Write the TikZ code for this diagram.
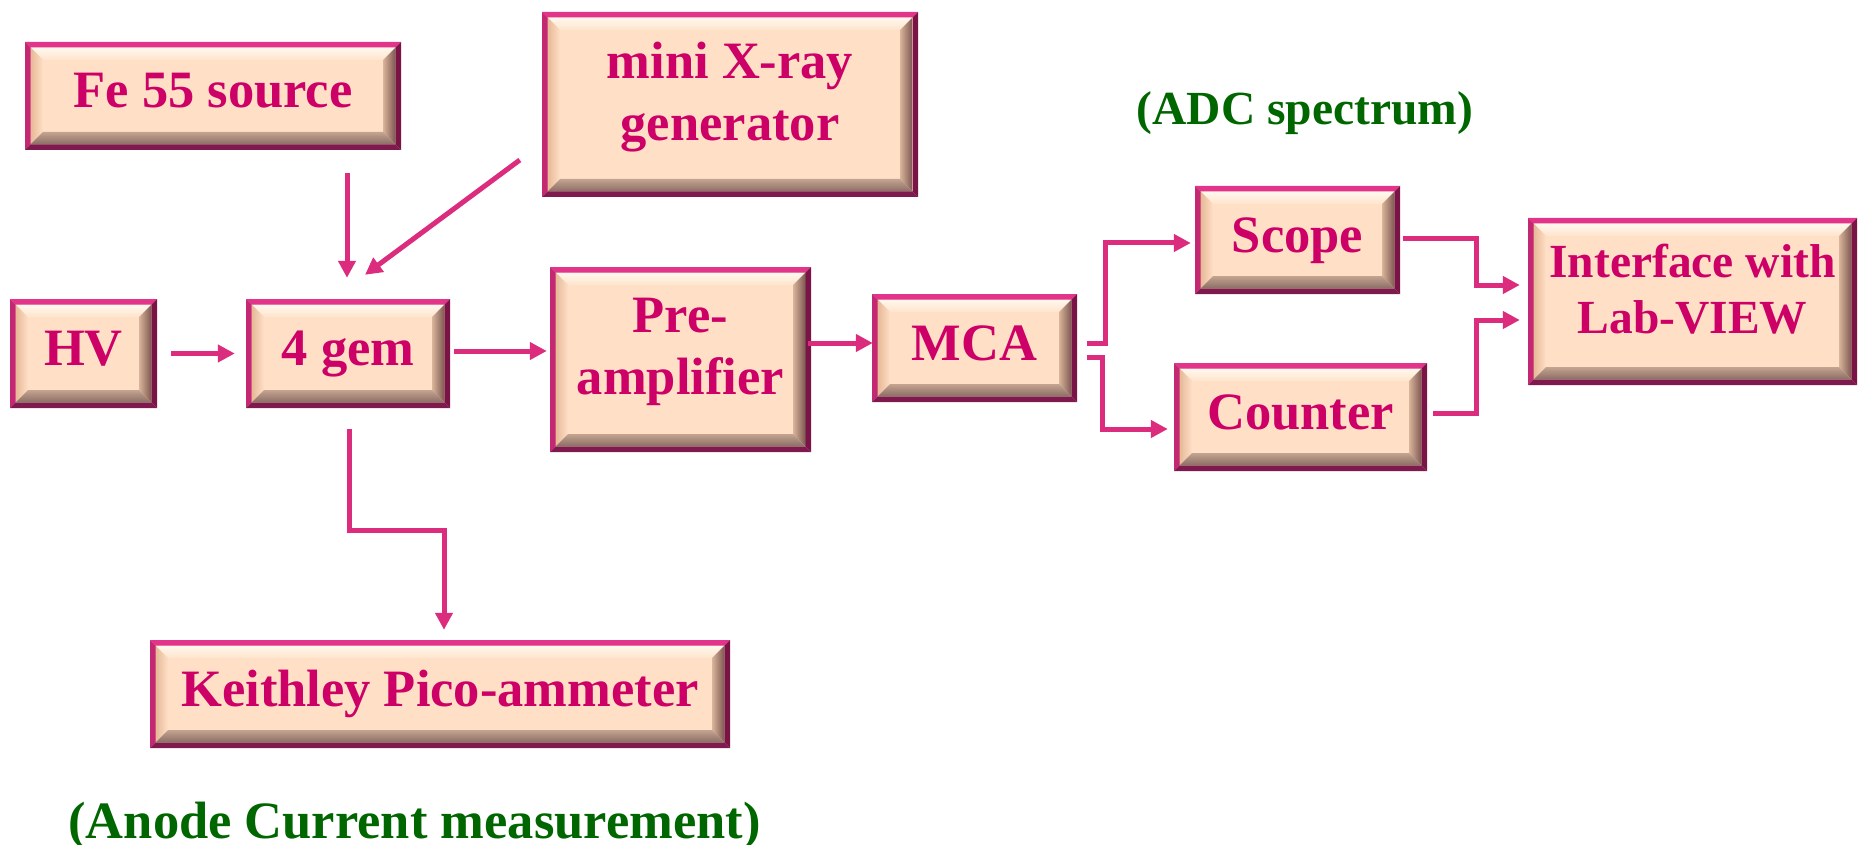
\documentclass[tikz,border=0pt]{standalone}
\usepackage{fontspec}
\setmainfont{Liberation Serif}
\usetikzlibrary{arrows.meta,calc}

\definecolor{peach}{HTML}{FFDFC6}
\definecolor{frT}{HTML}{E2348A}
\definecolor{frL}{HTML}{C42872}
\definecolor{frR}{HTML}{7A1446}
\definecolor{frB}{HTML}{7E1A4E}
\definecolor{bvT}{HTML}{FFF8EE}
\definecolor{bvTi}{HTML}{FFE4CC}
\definecolor{bvL}{HTML}{E6B896}
\definecolor{bvR}{HTML}{7C5650}
\definecolor{bvRi}{HTML}{D8B49A}
\definecolor{bvB}{HTML}{8A6C64}
\definecolor{bvBi}{HTML}{C4A490}
\definecolor{textc}{HTML}{CC0066}
\definecolor{notec}{HTML}{006600}
\definecolor{arrc}{HTML}{DB2C7E}

% frame width and frame+bevel width
\newcommand\bxfw{5.5pt}
\newcommand\bxbw{18pt}
\newcommand\lowstrut{\rule[-26pt]{0pt}{0pt}}

% raised bevel drawn inside a panel (pSW / pNE are its corners)
\newcommand\panelbevel{%
  \coordinate (pNW) at (pSW |- pNE);
  \coordinate (pSE) at (pNE |- pSW);
  % inner bevel
  \shade[top color=bvT, bottom color=bvTi]
    ([shift={(\bxfw,-\bxfw)}]pNW) -- ([shift={(-\bxfw,-\bxfw)}]pNE) --
    ([shift={(-\bxbw,-\bxbw)}]pNE) -- ([shift={(\bxbw,-\bxbw)}]pNW) -- cycle;
  \shade[left color=bvL, right color=peach]
    ([shift={(\bxfw,-\bxfw)}]pNW) -- ([shift={(\bxbw,-\bxbw)}]pNW) --
    ([shift={(\bxbw,\bxbw)}]pSW) -- ([shift={(\bxfw,\bxfw)}]pSW) -- cycle;
  \shade[left color=bvRi, right color=bvR]
    ([shift={(-\bxfw,-\bxfw)}]pNE) -- ([shift={(-\bxfw,\bxfw)}]pSE) --
    ([shift={(-\bxbw,\bxbw)}]pSE) -- ([shift={(-\bxbw,-\bxbw)}]pNE) -- cycle;
  \shade[top color=bvBi, bottom color=bvB]
    ([shift={(\bxfw,\bxfw)}]pSW) -- ([shift={(-\bxfw,\bxfw)}]pSE) --
    ([shift={(-\bxbw,\bxbw)}]pSE) -- ([shift={(\bxbw,\bxbw)}]pSW) -- cycle;
  % outer frame
  \fill[frT] (pNW) -- (pNE) -- ([shift={(-\bxfw,-\bxfw)}]pNE) -- ([shift={(\bxfw,-\bxfw)}]pNW) -- cycle;
  \fill[frL] (pNW) -- ([shift={(\bxfw,-\bxfw)}]pNW) -- ([shift={(\bxfw,\bxfw)}]pSW) -- (pSW) -- cycle;
  \fill[frR] (pNE) -- (pSE) -- ([shift={(-\bxfw,\bxfw)}]pSE) -- ([shift={(-\bxfw,-\bxfw)}]pNE) -- cycle;
  \fill[frB] (pSW) -- (pSE) -- ([shift={(-\bxfw,\bxfw)}]pSE) -- ([shift={(\bxfw,\bxfw)}]pSW) -- cycle;
}

\tikzset{
  panel/.style={rectangle, inner sep=0pt, fill=peach, text=textc, align=center,
    font=\bfseries\fontsize{52.5}{62}\selectfont,
    path picture={%
      \coordinate (pSW) at (path picture bounding box.south west);
      \coordinate (pNE) at (path picture bounding box.north east);
      \panelbevel}},
  oneline/.style={text height=36pt, text depth=12pt},
  smallfont/.style={font=\bfseries\fontsize{47.5}{56}\selectfont},
  arr/.style={draw=arrc, line width=5pt, -{Triangle[length=17pt,width=17pt]}},
  note/.style={text=notec, font=\bfseries\fontsize{52.5}{62}\selectfont,
    anchor=base, inner sep=0pt}
}

\begin{document}
\begin{tikzpicture}[x=1pt,y=-1pt]
\useasboundingbox (0,0) rectangle (1858,845);

% blocks
\node[panel,oneline,minimum width=376pt,minimum height=108pt] (fe) at (213,96) {Fe 55 source};
\node[panel,minimum width=376pt,minimum height=185pt] (xray) at (730,104.5) {mini X-ray\\generator\lowstrut};
\node[panel,oneline,minimum width=147pt,minimum height=109pt] (hv) at (83.5,353.5) {HV};
\node[panel,oneline,minimum width=204pt,minimum height=109pt] (gem) at (348,353.5) {4 gem};
\node[panel,minimum width=261pt,minimum height=185pt] (pre) at (680.5,359.5) {Pre-\\amplifier\lowstrut};
\node[panel,oneline,minimum width=205pt,minimum height=108pt] (mca) at (974.5,348) {MCA};
\node[panel,oneline,minimum width=205pt,minimum height=108pt] (scope) at (1297.5,240) {Scope};
\node[panel,oneline,minimum width=253pt,minimum height=108pt] (counter) at (1300.5,417) {Counter};
\node[panel,smallfont,minimum width=329pt,minimum height=167pt] (iface) at (1692.5,301.5) {Interface with\\Lab-VIEW\lowstrut};
\node[panel,oneline,minimum width=580pt,minimum height=108pt] (keith) at (440,694) {Keithley Pico-ammeter};

% captions
\node[note,font=\bfseries\fontsize{47.5}{56}\selectfont] (adc) at (1305,125) {(ADC spectrum)};
\node[note] (anode) at (414.5,838) {(Anode Current measurement)};

% connectors
\draw[arr] ($(fe.south -| gem.north)+(-1pt,-23pt)$) -- ($(gem.north)+(-1pt,21pt)$);
\draw[arr] ($(xray.west)+(-22pt,-55.5pt)$) -- ($(gem.north)+(17pt,24pt)$);
\draw[arr] ($(hv.east)+(14pt,0pt)$) -- ($(gem.west)+(-11pt,0pt)$);
\draw[arr] ($(gem.east)+(4pt,2.5pt)$) -- ($(gem.east -| pre.west)+(-3pt,2.5pt)$);
\draw[arr] ($(mca.west -| pre.east)+(-3pt,5pt)$) -- ($(mca.west)+(1pt,5pt)$);
\draw[arr] ($(mca.east)+(10pt,5pt)$) -- ++(18pt,0pt) |- ($(scope.west)+(-4pt,-3pt)$);
\draw[arr] ($(mca.east)+(10pt,-9pt)$) -- ++(15pt,0pt) |- ($(counter.west)+(-6pt,-12pt)$);
\draw[arr] ($(scope.east)+(3pt,1pt)$) -- ++(73pt,0pt) |- ($(iface.west)+(-8pt,16.5pt)$);
\draw[arr] ($(counter.east)+(6pt,4pt)$) -- ++(43pt,0pt) |- ($(iface.west)+(-8pt,-18.5pt)$);
\draw[arr] ($(gem.south)+(1pt,-21pt)$) -- ++(0pt,-101pt) -| ($(keith.north)+(4pt,10pt)$);
\end{tikzpicture}
\end{document}
